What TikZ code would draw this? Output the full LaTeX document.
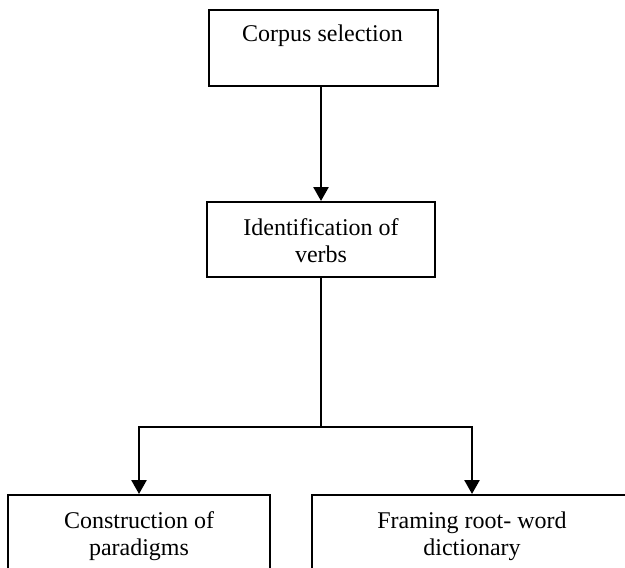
\documentclass[tikz,border=0pt]{standalone}
\usepackage{fontspec}
\setmainfont{Liberation Serif}
\usetikzlibrary{arrows.meta}
\begin{document}
\begin{tikzpicture}[x=0.5pt, y=-0.5pt,
  stage/.style={draw, line width=1pt, inner sep=0pt},
  words/.style={font=\fontsize{12pt}{13.5pt}\selectfont, align=center, inner sep=0pt, anchor=base},
  flow/.style={line width=1.3pt},
  flowarrow/.style={flow, -{Triangle[width=7.5pt,length=7pt]}}]
  \useasboundingbox (0,0) rectangle (625,567);
  \clip (0,0) rectangle (625,567);

  % boxes (the base anchor of a two-line label sits on its last line)
  \node[stage, minimum width=114.5pt, minimum height=38pt] (corpus) at (323.5,48) {};
  \node[words] (corpusText) at (322.5,42) {Corpus selection};

  \node[stage, minimum width=114pt, minimum height=37.5pt] (verbs) at (321,239.5) {};
  \node[words] (verbsText) at (321,262) {Identification of\\verbs};

  \node[stage, minimum width=131pt, minimum height=60pt] (paradigms) at (139,555) {};
  \node[words] (paradigmsText) at (139,555) {Construction of\\paradigms};

  \node[stage, minimum width=160pt, minimum height=60pt] (dictionary) at (472,555) {};
  \node[words] (dictionaryText) at (472,555) {Framing root- word\\dictionary};

  % connectors
  \draw[flowarrow] (verbs.north |- corpus.south) -- (verbs.north);
  \coordinate (split) at (321,427);
  \draw[flow] (verbs.south) -- (split);
  \draw[flowarrow] (split) -| (paradigms.north);
  \draw[flowarrow] (split) -| (dictionary.north);
\end{tikzpicture}
\end{document}
